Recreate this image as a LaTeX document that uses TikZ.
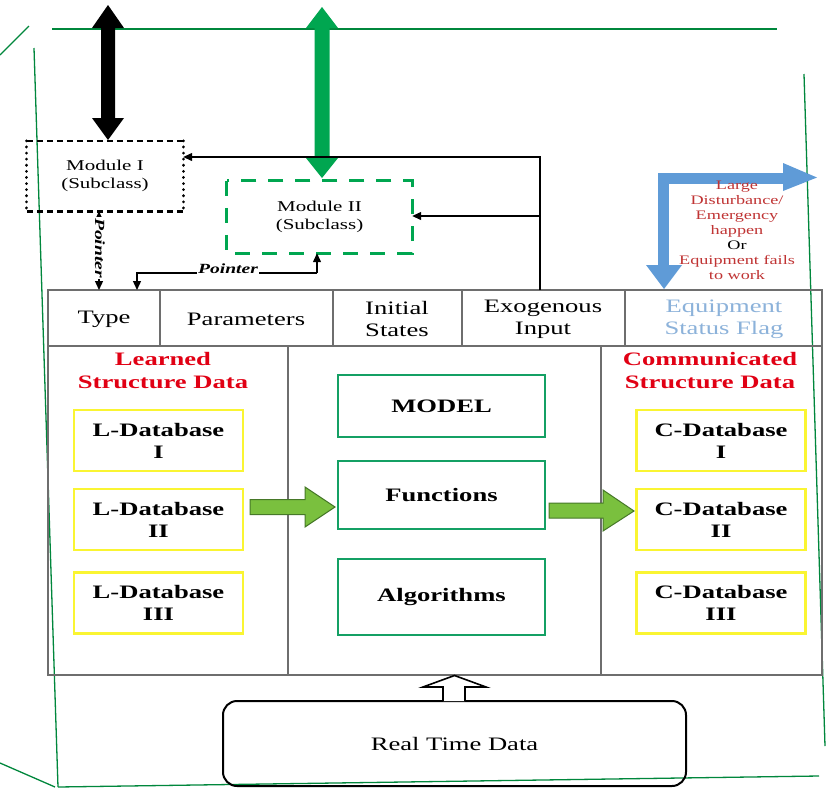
\documentclass[tikz,border=0pt]{standalone}
\usepackage{fontspec}
\setmainfont[FakeStretch=1.4]{Liberation Serif}
\usetikzlibrary{arrows.meta}

\definecolor{tblgray}{RGB}{110,110,110}
\definecolor{boxgreen}{RGB}{20,160,100}
\definecolor{dbyellow}{RGB}{250,245,50}
\definecolor{arrfill}{RGB}{122,192,62}
\definecolor{arrline}{RGB}{70,120,40}
\definecolor{modgreen}{RGB}{0,166,80}
\definecolor{flagblue}{RGB}{95,155,215}
\definecolor{hdrblue}{RGB}{140,178,218}
\definecolor{titlered}{RGB}{225,0,20}
\definecolor{notered}{RGB}{192,52,52}
\definecolor{framegreen}{RGB}{0,135,60}

\tikzset{
  tbl/.style={draw=tblgray, line width=1.3pt},
  hdrtext/.style={font=\fontsize{19}{22}\selectfont, align=center, inner sep=0pt},
  title/.style={font=\bfseries\fontsize{19}{23}\selectfont, text=titlered, align=center, inner sep=0pt},
  dbbox/.style={draw=dbyellow, line width=2.6pt, minimum width=169pt, minimum height=61pt,
    font=\bfseries\fontsize{19}{22}\selectfont, align=center, inner sep=0pt},
  fnbox/.style={draw=boxgreen, line width=2.6pt, minimum width=207pt,
    font=\bfseries\fontsize{19}{22}\selectfont, align=center, inner sep=0pt},
  modtext/.style={font=\fontsize{15}{18}\selectfont, align=center, inner sep=0pt},
  ptrlabel/.style={font=\bfseries\itshape\fontsize{14}{16}\selectfont, fill=white, inner sep=1pt},
  link/.style={draw=black, line width=1.3pt},
  tip/.style={-{Triangle[length=9pt,width=8pt]}},
  bitip/.style={{Triangle[length=9pt,width=8pt]}-{Triangle[length=9pt,width=8pt]}},
  bigarrow/.style={fill=arrfill, draw=arrline, line width=1pt, line join=miter},
  frameline/.style={draw=framegreen, line width=1.3pt},
}

\begin{document}
\begin{tikzpicture}[x=1pt, y=-1pt]
\useasboundingbox (0,0) rectangle (831,788);
\fill[white] (0,0) rectangle (831,788);

% skewed page frame
\draw[frameline] (52,29) -- (777,29);
\draw[frameline] (0,55) -- (29,26);
\draw[frameline] (34,48) -- (58,787);
\draw[frameline] (0,763) -- (55,787);
\draw[frameline] (58,787) -- (819,776);
\draw[frameline] (804,74) -- (825,746);

% table: header row and body
\draw[tbl] (48,290) rectangle (822,675);
\draw[tbl] (48,346) -- (822,346);
\foreach \x in {160,333,462,625} \draw[tbl] (\x,290) -- (\x,346);
\foreach \x in {288,601} \draw[tbl] (\x,346) -- (\x,675);

\node[hdrtext] (type)  at (104,319) {Type};
\node[hdrtext] (param) at (246,319) {Parameters};
\node[hdrtext] (init)  at (397,319) {Initial\\States};
\node[hdrtext] (exo)   at (543,319) {Exogenous\\Input};
\node[hdrtext, text=hdrblue] (flag) at (724,319) {Equipment\\Status Flag};

% learned structure data
\node[title] (ltitle) at (163,371) {Learned\\Structure Data};
\node[dbbox] (l1) at (158.5,440.5) {L-Database\\I};
\node[dbbox] (l2) at (158.5,519.5) {L-Database\\II};
\node[dbbox] (l3) at (158.5,603) {L-Database\\III};

% model block
\node[fnbox, minimum height=62pt] (model) at (441.5,406) {MODEL};
\node[fnbox, minimum height=68pt] (func)  at (441.5,495) {Functions};
\node[fnbox, minimum height=76pt] (algo)  at (441.5,597) {Algorithms};

% communicated structure data
\node[title] (ctitle) at (710,371) {Communicated\\Structure Data};
\node[dbbox] (c1) at (721,440.5) {C-Database\\I};
\node[dbbox] (c2) at (721,519.5) {C-Database\\II};
\node[dbbox] (c3) at (721,603) {C-Database\\III};

% block arrows between the columns
\draw[bigarrow] (250,499.5) -- (305,499.5) -- (305,487) -- (335,507) -- (305,527)
  -- (305,514.5) -- (250,514.5) -- cycle;
\draw[bigarrow] (549,503) -- (603,503) -- (603,490) -- (634,511) -- (603,531)
  -- (603,518) -- (549,518) -- cycle;

% real time data input
\node[draw=black, line width=2pt, rounded corners=14pt, minimum width=463pt,
  minimum height=85pt, font=\fontsize{19}{22}\selectfont] (rtd) at (454.5,743.5) {Real Time Data};
\draw[draw=black, fill=white, line width=1.6pt] (443,701) -- (443,687) -- (423,687)
  -- (454.5,675.5) -- (486,687) -- (465,687) -- (465,701);

% modules
\node[modtext, minimum width=156pt, minimum height=70pt] (modI) at (105,176) {Module I\\(Subclass)};
\draw[line width=2.6pt, dash pattern=on 6pt off 4pt] (modI.north west) -- (modI.north east);
\draw[line width=2.6pt, dash pattern=on 6pt off 4pt] (modI.south west) -- (modI.south east);
\draw[line width=3pt, line cap=round, dash pattern=on 0.1pt off 6pt] (modI.north west) -- (modI.south west);
\draw[line width=3pt, line cap=round, dash pattern=on 0.1pt off 6pt] (modI.north east) -- (modI.south east);

\node[modtext, minimum width=185pt, minimum height=72pt] (modII) at (319.5,217) {Module II\\(Subclass)};
\draw[draw=modgreen, line width=3pt, dash pattern=on 15pt off 12pt]
  (modII.north west) rectangle (modII.south east);

% big double arrows above the modules
\fill[black] (108,5) -- (124,28) -- (115,28) -- (115,118) -- (124,118) -- (108,140)
  -- (92,118) -- (101,118) -- (101,28) -- (92,28) -- cycle;
\fill[modgreen] (322,7) -- (338,28) -- (329.5,28) -- (329.5,158) -- (338,158) -- (322,178)
  -- (306,158) -- (314.5,158) -- (314.5,28) -- (306,28) -- cycle;

% feedback from exogenous input to the modules
\coordinate (fb) at (540,290);
\coordinate (j1) at (540,157);
\coordinate (j2) at (540,216);
\draw[link, tip] (fb) -- (j1) -- (modI.east |- j1);
\draw[link, tip] (j2) -- (modII.east |- j2);

% pointers
\coordinate (p1) at (99,290);
\draw[link, bitip] (modI.south -| p1) -- (p1);
\node[ptrlabel, rotate=-90] (ptr1) at (100,248) {Pointer};

\coordinate (p2) at (137,290);
\coordinate (p3) at (317,273);
\draw[link, tip] (p3) -- (modII.south -| p3);
\draw[link, tip] (p3) -- (137,273) -- (p2);
\node[ptrlabel] (ptr2) at (228,269) {Pointer};

% equipment status flag arrow
\draw[draw=flagblue, line width=11pt] (663.5,266) -- (663.5,178) -- (784,178);
\fill[flagblue] (646,265) -- (682,265) -- (664,289) -- cycle;
\fill[flagblue] (783,163) -- (817,177.5) -- (783,191) -- cycle;
\node[font=\fontsize{13}{15}\selectfont, align=center, text=notered, inner sep=0pt] (note) at (737,230)
  {Large\\Disturbance/\\Emergency\\happen\\\textcolor{black}{Or}\\Equipment fails\\to work};
\end{tikzpicture}
\end{document}
